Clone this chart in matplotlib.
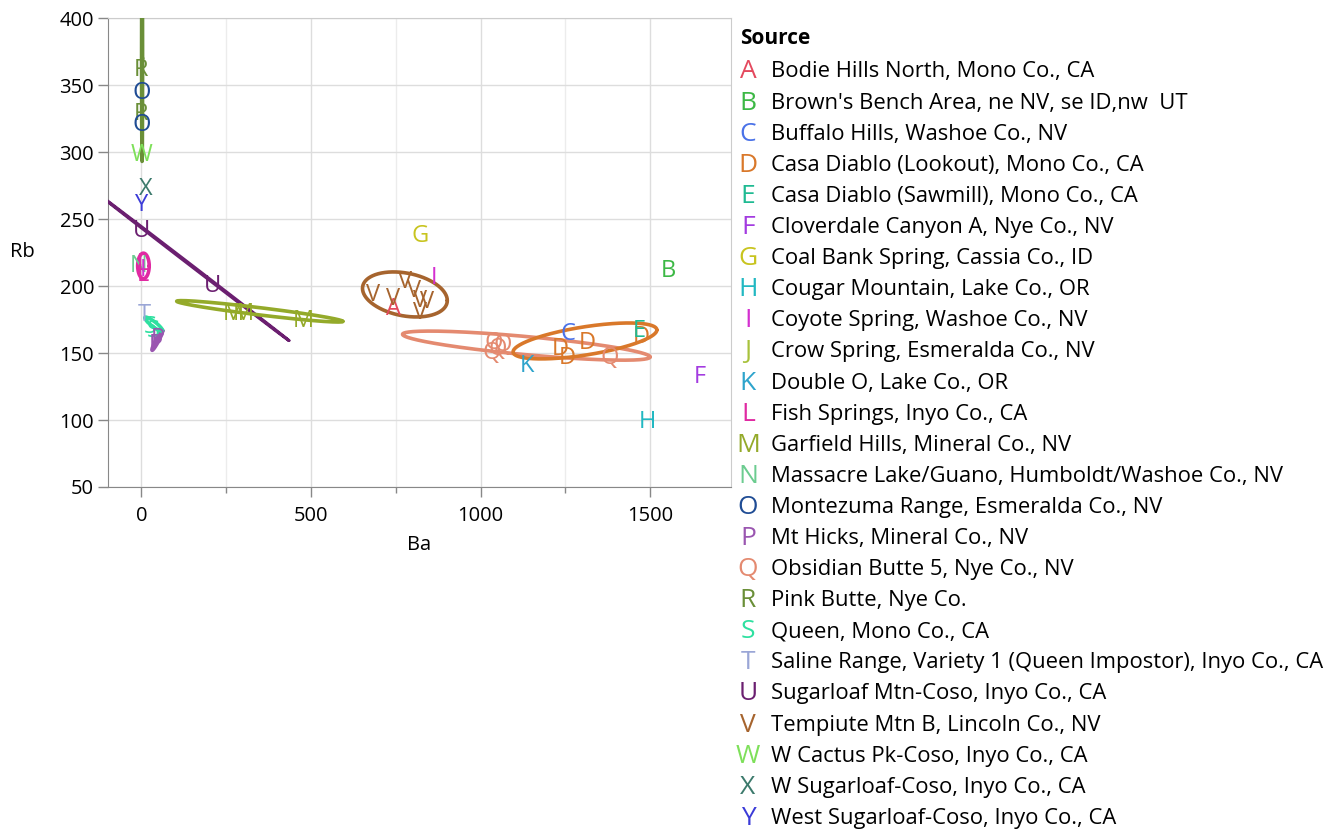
import numpy as np
import matplotlib
matplotlib.use("Agg")
import matplotlib.pyplot as plt
from matplotlib.transforms import ScaledTranslation

plt.rcParams['font.family'] = ['Open Sans', 'DejaVu Sans']

# ---------------- data ----------------
source_letters = list("ABCDEFGHIJKLMNOPQRSTUVWXY")
source_names = [
    "Bodie Hills North, Mono Co., CA",
    "Brown's Bench Area, ne NV, se ID,nw  UT",
    "Buffalo Hills, Washoe Co., NV",
    "Casa Diablo (Lookout), Mono Co., CA",
    "Casa Diablo (Sawmill), Mono Co., CA",
    "Cloverdale Canyon A, Nye Co., NV",
    "Coal Bank Spring, Cassia Co., ID",
    "Cougar Mountain, Lake Co., OR",
    "Coyote Spring, Washoe Co., NV",
    "Crow Spring, Esmeralda Co., NV",
    "Double O, Lake Co., OR",
    "Fish Springs, Inyo Co., CA",
    "Garfield Hills, Mineral Co., NV",
    "Massacre Lake/Guano, Humboldt/Washoe Co., NV",
    "Montezuma Range, Esmeralda Co., NV",
    "Mt Hicks, Mineral Co., NV",
    "Obsidian Butte 5, Nye Co., NV",
    "Pink Butte, Nye Co.",
    "Queen, Mono Co., CA",
    "Saline Range, Variety 1 (Queen Impostor), Inyo Co., CA",
    "Sugarloaf Mtn-Coso, Inyo Co., CA",
    "Tempiute Mtn B, Lincoln Co., NV",
    "W Cactus Pk-Coso, Inyo Co., CA",
    "W Sugarloaf-Coso, Inyo Co., CA",
    "West Sugarloaf-Coso, Inyo Co., CA",
]
source_colors = [
    "#e4495e", "#3cb845", "#4a72e8", "#d9782a", "#1fba92", "#a33be0",
    "#c8c41f", "#22b8c2", "#d42fd0", "#a8c23c", "#2ea4cc", "#e02aa2",
    "#94aa2a", "#6ccc90", "#1f4c94", "#9a56b0", "#e48a70", "#6a8f38",
    "#2ee0a0", "#9aa6d6", "#6b1f70", "#a6642e", "#7ee05a", "#3c7a6c",
    "#3b3bd8",
]

# sample points (letter = source)
point_source = ["R", "R", "O", "O", "W", "X", "Y", "U", "U",
                "N", "L", "L", "I", "T", "S", "S", "P", "P",
                "M", "M", "M", "G", "I", "A",
                "V", "V", "V", "V", "V", "V", "V",
                "Q", "Q", "Q", "Q", "Q",
                "D", "D", "D", "D", "C", "E", "K", "B", "F", "H"]
point_ba = [0, 0, 0, 0, 0, 13, 2, 0, 211,
            -8, 3, 5, 4, 10, 25, 35, 42, 48,
            271, 300, 476, 822, 863, 742,
            683, 742, 777, 804, 821, 821, 842,
            1038, 1050, 1066, 1034, 1381,
            1234, 1255, 1314, 1475, 1258, 1467, 1137, 1553, 1647, 1491]
point_rb = [363, 330, 346, 322, 300, 274, 262, 243, 201.5,
            217, 218, 210, 214, 180, 171, 168, 158, 162,
            181.3, 181.3, 176, 239, 207.5, 185,
            195.5, 192.5, 204.5, 198.5, 191, 182, 189.6,
            159.7, 154.5, 157.5, 152.2, 148,
            155, 147.8, 159, 164, 165.7, 168, 142.5, 213.4, 133.6, 100]

# confidence ellipses per source
ell_source = ["U", "R", "M", "V", "Q", "D", "L", "P", "S"]
ell_cx = [152, 2, 349, 777, 1135, 1308, 6, 47, 36]
ell_cy = [214.3, 370, 181.1, 193.7, 155.5, 159, 215, 159.5, 171.6]
ell_sx = [283, 1.5, 245, 125, 365, 212, 17, 16, 26]
ell_sy = [55, 77, 8, 16.8, 10.85, 13.4, 9.5, 7.5, 5.2]
ell_rho = [-0.99995, 0.0, -0.94, -0.27, -0.78, 0.61, 0.0, 0.95, -0.9]

x_ticks = [0, 500, 1000, 1500]
x_minor = [250, 750, 1250]
y_ticks = [50, 100, 150, 200, 250, 300, 350, 400]

# ---------------- figure ----------------
W, H = 1336, 834
fig = plt.figure(figsize=(W / 100, H / 100), dpi=100)
L_, R_, T_, B_ = 108, 731, 18, 487
ax = fig.add_axes([L_ / W, 1 - B_ / H, (R_ - L_) / W, (B_ - T_) / H])
ax.set_xlim(-98.5, 1738.6)
ax.set_ylim(50, 400)

color_of = dict(zip(source_letters, source_colors))
down = ScaledTranslation(0, -2.5 / 100, fig.dpi_scale_trans)

t = np.linspace(0, 2 * np.pi, 400)
for s, cx, cy, sx, sy, r in zip(ell_source, ell_cx, ell_cy, ell_sx, ell_sy, ell_rho):
    xs = cx + sx * np.cos(t)
    ys = cy + sy * (r * np.cos(t) + np.sqrt(1 - r * r) * np.sin(t))
    lw = 2.2 if s == "U" else 2.6
    ax.plot(xs, ys, color=color_of[s], lw=lw, solid_capstyle='round', zorder=3)

for s, x, y in zip(point_source, point_ba, point_rb):
    ax.text(x, y, s, color=color_of[s], fontsize=17, ha='center', va='center',
            zorder=4, clip_on=True, transform=ax.transData + down)

ax.set_xticks(x_ticks)
ax.set_xticks(x_minor, minor=True)
ax.set_yticks(y_ticks)
ax.grid(True, which='major', color='#dddddd', lw=1, zorder=0)
ax.grid(True, which='minor', axis='x', color='#ececec', lw=1, zorder=0)
ax.set_axisbelow(True)
ax.tick_params(axis='both', which='major', length=7, width=1, color='#888888',
               labelsize=14.5, labelcolor='#000000')
ax.tick_params(axis='x', which='major', pad=7)
ax.tick_params(axis='y', which='major', pad=3)
ax.tick_params(axis='x', which='minor', length=4, width=1, color='#888888')
for side in ['left', 'bottom']:
    ax.spines[side].set_color('#888888')
for side in ['right', 'top']:
    ax.spines[side].set_color('#cccccc')
ax.set_xlabel("Ba", fontsize=14.5, labelpad=6)
ax.set_ylabel("Rb", fontsize=14.5, rotation=0, va='center', ha='center')
ax.yaxis.set_label_coords((22 - L_) / (R_ - L_), (B_ - 252) / (B_ - T_))

# ---------------- legend ----------------
fig.text(740 / W, 1 - 39 / H, "Source", fontsize=15, fontweight='bold',
         ha='left', va='center')
for i, (s, name, c) in enumerate(zip(source_letters, source_names, source_colors)):
    yy = 1 - (72 + i * 31.1) / H
    fig.text(748 / W, yy, s, color=c, fontsize=19, ha='center', va='center')
    fig.text(771 / W, yy, name, color='#000000', fontsize=15.8, ha='left', va='center')

fig.savefig("out.png", dpi=100)
